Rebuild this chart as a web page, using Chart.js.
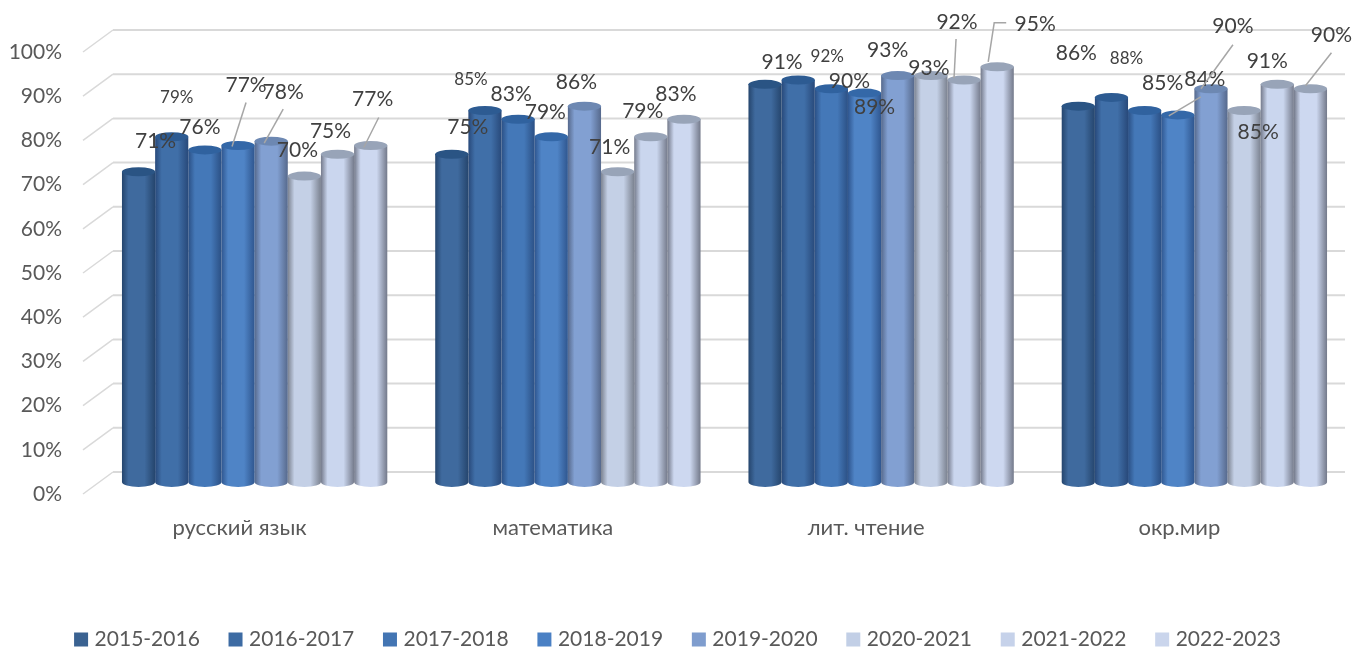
<!DOCTYPE html>
<html>
<head>
<meta charset="utf-8">
<title>chart</title>
<script src="https://cdn.jsdelivr.net/npm/chart.js@4/dist/chart.umd.js"></script>
<style>
    html, body { margin: 0; padding: 0; background: #fff; }
    canvas { display: block; }
</style>
</head>
<body>
<canvas id="chart" width="1359" height="649"></canvas>
<script>
const categories = ['русский язык', 'математика', 'лит. чтение', 'окр.мир'];
const years = ['2015-2016', '2016-2017', '2017-2018', '2018-2019', '2019-2020', '2020-2021', '2021-2022', '2022-2023'];

const values2015 = [71, 75, 91, 86];
const values2016 = [79, 85, 92, 88];
const values2017 = [76, 83, 90, 85];
const values2018 = [77, 79, 89, 84];
const values2019 = [78, 86, 93, 90];
const values2020 = [70, 71, 93, 85];
const values2021 = [75, 79, 92, 91];
const values2022 = [77, 83, 95, 90];
const seriesValues = [values2015, values2016, values2017, values2018, values2019, values2020, values2021, values2022];

const yTicks = [0, 10, 20, 30, 40, 50, 60, 70, 80, 90, 100];

// legend colour, centre of the cylinder, its edges, top cap
const legendColors = ['#3a6291', '#3d6ba3', '#4375b3', '#4a80c4', '#7f9dce', '#c2cfe6', '#c6d2ea', '#cad5ec'];
const midColors = ['#3f6a9e', '#406fa8', '#4478b8', '#4f84c6', '#82a0d2', '#c4d0e6', '#cad6ee', '#cdd8f0'];
const edgeColors = ['#25456d', '#28497a', '#2b5085', '#2f568f', '#56698c', '#7b8290', '#757b8c', '#73798a'];
const capColors = ['#2a5484', '#2d5b92', '#30629f', '#3468a8', '#6d88b2', '#98a4b8', '#98a4b8', '#98a4b8'];

// label centre relative to the top of its bar, one row per category
const labelOffsets = [
    [[17, -30], [5, -39], [-5, -23], [8, -60], [12, -49], [-7, -26], [-7, -23], [2, -46]],
    [[16, -27], [-14, -31], [-7, -25], [-6, -25], [-8, -24], [-8, -24], [-8, -26], [-8, -25]],
    [[17, -22], [29, -23], [18, -7], [10, 14], [-10, -25], [-2, -7], [-7, -58], [38, -43]],
    [[-2, -53], [15, -39], [18, -27], [27, -36], [22, -62], [14, 22], [-10, -23], [21, -53]]
];
// these few labels are smaller in the original: category-series
const smallLabels = ['0-1', '1-1', '2-1', '3-1'];
// leader lines, points relative to the top of the bar
const leaderLines = {
    '0-3': [[-6, 1], [8, -43]],
    '0-4': [[-7, 2], [12, -32]],
    '0-7': [[-7, 2], [8, -28]],
    '2-6': [[-10, -2], [-8, -41]],
    '2-7': [[-9, -5], [-3, -44], [9, -44]],
    '3-3': [[-9, 1], [23, -18]],
    '3-4': [[-10, 0], [22, -44]],
    '3-7': [[-5, -3], [21, -36]]
};

const fontName = 'Lato, "Open Sans", sans-serif';
const capHeight = 4.5;

// gridlines sit on the back wall, the short slanted part goes to the axis labels
const wallGrid = {
    id: 'wallGrid',
    afterLayout(chart) {
        // legend is not quite centred in the original
        chart.legend.left += 4;
        chart.legend.right += 4;
    },
    beforeDatasetsDraw(chart) {
        const ctx = chart.ctx;
        const scale = chart.scales.y2;
        ctx.save();
        scale.ticks.forEach(tick => {
            const y = scale.getPixelForValue(tick.value);
            ctx.strokeStyle = '#d9d9d9';
            ctx.lineWidth = 1.5;
            ctx.beginPath();
            ctx.moveTo(83, y);
            ctx.lineTo(113, y - 22);
            ctx.stroke();
            ctx.lineWidth = 2;
            ctx.beginPath();
            ctx.moveTo(113, y - 22);
            ctx.lineTo(1345, y - 22);
            ctx.stroke();
        });
        ctx.restore();
    }
};

// replaces the flat bar with a cylinder
const cylinders = {
    id: 'cylinders',
    beforeDatasetDraw(chart, args) {
        const ctx = chart.ctx;
        const i = args.index;
        ctx.save();
        args.meta.data.forEach(bar => {
            const left = bar.x - bar.width / 2;
            const right = bar.x + bar.width / 2;
            const gradient = ctx.createLinearGradient(left, 0, right, 0);
            gradient.addColorStop(0, edgeColors[i]);
            gradient.addColorStop(0.2, midColors[i]);
            gradient.addColorStop(0.68, midColors[i]);
            gradient.addColorStop(1, edgeColors[i]);

            ctx.beginPath();
            ctx.moveTo(left, bar.y);
            ctx.lineTo(left, bar.base);
            ctx.ellipse(bar.x, bar.base, bar.width / 2, capHeight + 0.5, 0, Math.PI, 0, true);
            ctx.lineTo(right, bar.y);
            ctx.closePath();
            ctx.fillStyle = gradient;
            ctx.fill();

            ctx.beginPath();
            ctx.ellipse(bar.x, bar.y, bar.width / 2, capHeight, 0, 0, Math.PI * 2);
            ctx.fillStyle = capColors[i];
            ctx.fill();
        });
        ctx.restore();
        return false;
    }
};

const barLabels = {
    id: 'barLabels',
    afterDatasetsDraw(chart) {
        const ctx = chart.ctx;
        ctx.save();
        ctx.textAlign = 'center';
        ctx.textBaseline = 'middle';
        ctx.fillStyle = '#404040';
        chart.data.datasets.forEach((dataset, s) => {
            chart.getDatasetMeta(s).data.forEach((bar, c) => {
                const key = c + '-' + s;
                const points = leaderLines[key];
                if (points) {
                    ctx.strokeStyle = '#a6a6a6';
                    ctx.lineWidth = 1.5;
                    ctx.beginPath();
                    points.forEach((p, n) => {
                        if (n === 0) ctx.moveTo(bar.x + p[0], bar.y + p[1]);
                        else ctx.lineTo(bar.x + p[0], bar.y + p[1]);
                    });
                    ctx.stroke();
                }
                const size = smallLabels.includes(key) ? 17 : 21;
                ctx.font = size + 'px ' + fontName;
                const offset = labelOffsets[c][s];
                ctx.fillText(dataset.data[c] + '%', bar.x + offset[0], bar.y + offset[1]);
            });
        });
        ctx.restore();
    }
};

const datasets = years.map((year, i) => ({
    label: year,
    data: seriesValues[i],
    backgroundColor: legendColors[i],
    categoryPercentage: 0.847,
    barPercentage: 1
}));

new Chart(document.getElementById('chart').getContext('2d'), {
    type: 'bar',
    data: { labels: categories, datasets: datasets },
    plugins: [wallGrid, cylinders, barLabels],
    options: {
        responsive: false,
        animation: false,
        layout: { padding: { top: 20, right: 8, left: 0, bottom: -11 } },
        plugins: {
            tooltip: { enabled: false },
            legend: {
                position: 'bottom',
                labels: {
                    usePointStyle: true,
                    pointStyle: 'rect',
                    boxWidth: 6,
                    boxHeight: 14,
                    padding: 32.7,
                    color: '#595959',
                    font: { family: fontName, size: 21 }
                }
            }
        },
        scales: {
            x: {
                grid: { display: false },
                border: { display: false },
                ticks: {
                    labelOffset: -15,
                    padding: 7,
                    color: '#595959',
                    font: { family: fontName, size: 22 }
                },
                afterFit: scale => { scale.height = 96.3; }
            },
            // bars, not shown
            y: { display: false, min: -4.119, max: 105.72 },
            // the visible axis, it runs a bit lower than the bars because of the 3d look
            y2: {
                position: 'left',
                min: -1.357,
                max: 107.24,
                grid: { display: false, drawTicks: false },
                border: { display: false },
                afterBuildTicks: scale => { scale.ticks = yTicks.map(v => ({ value: v })); },
                afterFit: scale => {
                    scale.width = 98;
                    scale.paddingTop = 0;
                    scale.paddingBottom = 0;
                },
                ticks: {
                    padding: 36,
                    autoSkip: false,
                    color: '#595959',
                    font: { family: fontName, size: 21 },
                    callback: v => v + '%'
                }
            }
        }
    }
});
</script>
</body>
</html>
